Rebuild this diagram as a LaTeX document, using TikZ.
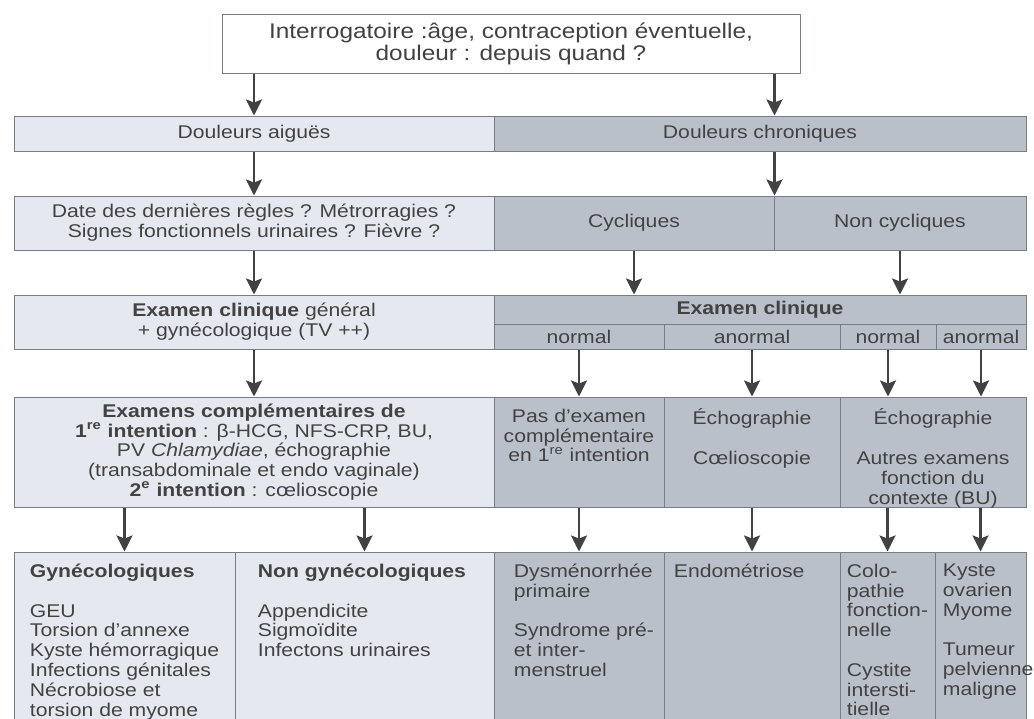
\documentclass[tikz,border=0pt]{standalone}
\usepackage{fontspec}
\setmainfont[FakeStretch = 1.15]{Liberation Sans}
\usetikzlibrary{arrows.meta,positioning}

\definecolor{clair}{RGB}{229,233,239}
\definecolor{fonce}{RGB}{186,192,202}
\definecolor{trait}{RGB}{120,126,135}
\definecolor{encre}{RGB}{66,66,66}

\begin{document}
\begin{tikzpicture}[x = 0.5pt, y = -0.5pt,
    font = \fontsize{9.2}{9.9}\selectfont,
    every node/.style = {text = encre},
    box/.style = {draw = trait, line width = 0.5pt, inner sep = 0pt, align = center},
    aigu/.style = {box, fill = clair},
    chro/.style = {box, fill = fonce},
    liste/.style = {inner sep = 0pt, align = left},
    haut/.style = {inner sep = 0pt, align = center},
    fleche/.style = {draw = encre, line width = 1.3pt, -{Stealth[length = 8pt, width = 8pt, inset = 1.5pt]}}]

                \path [use as bounding box, fill = white] (0, 0) rectangle (1034, 718);
                \clip (0, 0) rectangle (1034, 718);

                \node [box, fill = white, minimum width = 289pt, minimum height = 29.5pt,
                       font = \fontsize{10.6}{11}\selectfont] (interro) at (511, 43.5)
                    {Interrogatoire :âge, contraception éventuelle,\\ douleur : depuis quand ?};

                \node [aigu, minimum width = 240pt, minimum height = 17.5pt] (aigue) at (254, 133.5) {Douleurs aiguës};
                \node [chro, minimum width = 266pt, minimum height = 17.5pt] (chron) at (760, 133.5) {Douleurs chroniques};

                \node [aigu, minimum width = 240pt, minimum height = 27pt] (signes) at (254, 223)
                    {Date des dernières règles ? Métrorragies ?\\ Signes fonctionnels urinaires ? Fièvre ?};
                \node [chro, minimum width = 140pt, minimum height = 27pt] (cycl) at (634, 223) {Cycliques};
                \node [chro, minimum width = 126pt, minimum height = 27pt] (noncycl) at (900, 223) {Non cycliques};

                \node [aigu, minimum width = 240pt, minimum height = 27pt] (clinA) at (254, 322)
                    {\textbf{Examen clinique} général\\ + gynécologique (TV ++)};
                \node [chro, minimum width = 266pt, minimum height = 14.5pt] (clinC) at (760, 309.5) {\textbf{Examen clinique}};
                \node [chro, minimum width = 85pt, minimum height = 12.5pt] (norm1) at (579, 336.5) {normal};
                \node [chro, minimum width = 88pt, minimum height = 12.5pt] (anorm1) at (752, 336.5) {anormal};
                \node [chro, minimum width = 48pt, minimum height = 12.5pt] (norm2) at (888, 336.5) {normal};
                \node [chro, minimum width = 45pt, minimum height = 12.5pt] (anorm2) at (981, 336.5) {anormal};

                \node [aigu, minimum width = 240pt, minimum height = 55pt] (bilan) at (254, 452)
                    {\textbf{Examens complémentaires de}\\
                     \textbf{1\textsuperscript{re} intention} : β-HCG, NFS-CRP, BU,\\
                     PV \textit{Chlamydiae}, échographie\\
                     (transabdominale et endo vaginale)\\
                     \textbf{2\textsuperscript{e} intention} : cœlioscopie};
                \node [chro, minimum width = 85pt, minimum height = 55pt] (rien) at (579, 452) {};
                \node [chro, minimum width = 88pt, minimum height = 55pt] (echoA) at (752, 452) {};
                \node [chro, minimum width = 93pt, minimum height = 55pt] (echoB) at (933, 452) {};
                \node [haut, below = 6pt of rien.north] (rienT) {Pas d'examen\\ complémentaire\\ en 1\textsuperscript{re} intention};
                \node [haut, below = 6pt of echoA.north] (echoAT) {Échographie\\[9.9pt] Cœlioscopie};
                \node [haut, below = 6pt of echoB.north] (echoBT) {Échographie\\[9.9pt] Autres examens\\ fonction du\\ contexte (BU)};

                \node [aigu, minimum width = 110.5pt, minimum height = 94pt] (gyn) at (124.5, 646) {};
                \node [aigu, minimum width = 129.5pt, minimum height = 94pt] (ngyn) at (364.5, 646) {};
                \node [chro, minimum width = 85pt, minimum height = 94pt] (dysm) at (579, 646) {};
                \node [chro, minimum width = 88pt, minimum height = 94pt] (endo) at (752, 646) {};
                \node [chro, minimum width = 47.5pt, minimum height = 94pt] (colo) at (887.5, 646) {};
                \node [chro, minimum width = 45.5pt, minimum height = 94pt] (kyste) at (980.5, 646) {};

                \node [liste, below right = 6pt and 8pt of gyn.north west] (gynT)
                    {\textbf{Gynécologiques}\\[9.9pt] GEU\\ Torsion d'annexe\\ Kyste hémorragique\\
                     Infections génitales\\ Nécrobiose et\\ torsion de myome};
                \node [liste, below right = 6pt and 11.5pt of ngyn.north west] (ngynT)
                    {\textbf{Non gynécologiques}\\[9.9pt] Appendicite\\ Sigmoïdite\\ Infectons urinaires};
                \node [liste, below right = 6pt and 10pt of dysm.north west] (dysmT)
                    {Dysménorrhée\\ primaire\\[9.9pt] Syndrome pré-\\ et inter-\\ menstruel};
                \node [liste, below right = 6pt and 5pt of endo.north west] (endoT) {Endométriose};
                \node [liste, below right = 6pt and 3.5pt of colo.north west] (coloT)
                    {Colo-\\ pathie\\ fonction-\\ nelle\\[9.9pt] Cystite\\ intersti-\\ tielle};
                \node [liste, below right = 6pt and 4pt of kyste.north west] (kysteT)
                    {Kyste\\ ovarien\\ Myome\\[9.9pt] Tumeur\\ pelvienne\\ maligne};

                \draw [fleche] (interro.south -| aigue.north) -- (aigue.north);
                \draw [fleche] (interro.south -| cycl.east) -- (chron.north -| cycl.east);
                \draw [fleche] (aigue) -- (signes);
                \draw [fleche] (chron.south -| cycl.east) -- (cycl.north east);
                \draw [fleche] (signes) -- (clinA);
                \draw [fleche] (cycl) -- (cycl |- clinC.north);
                \draw [fleche] (noncycl) -- (noncycl |- clinC.north);
                \draw [fleche] (clinA) -- (bilan);
                \foreach \c in {norm1, anorm1, norm2, anorm2}
                \draw [fleche] (\c) -- (\c |- rien.north);

                \draw [fleche] (bilan.south -| gyn) -- (gyn);
                \draw [fleche] (bilan.south -| ngyn) -- (ngyn);
                \draw [fleche] (rien) -- (dysm);
                \draw [fleche] (echoA) -- (endo);
                \draw [fleche] (echoB.south -| colo) -- (colo);
                \draw [fleche] (echoB.south -| kyste) -- (kyste);
            \end{tikzpicture}
\end{document}
